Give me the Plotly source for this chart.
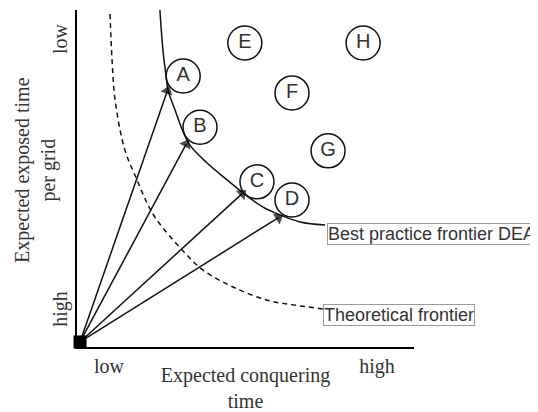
import plotly.graph_objects as go

# Decision-making units (circles)
unit_labels = ["A", "B", "C", "D", "E", "F", "G", "H"]
unit_x = [0.315, 0.365, 0.534, 0.638, 0.498, 0.638, 0.745, 0.849]
unit_y = [0.804, 0.652, 0.490, 0.436, 0.902, 0.754, 0.582, 0.902]

# Best practice frontier (DEA)
dea_x = [0.246, 0.255, 0.264, 0.270, 0.291, 0.315, 0.335, 0.386, 0.445, 0.493, 0.552, 0.602, 0.662, 0.736]
dea_y = [1.000, 0.881, 0.807, 0.763, 0.703, 0.638, 0.599, 0.546, 0.496, 0.457, 0.415, 0.392, 0.371, 0.362]

# Theoretical frontier
theo_x = [0.098, 0.104, 0.113, 0.142, 0.178, 0.208, 0.237, 0.312, 0.374, 0.463, 0.564, 0.641, 0.730]
theo_y = [0.988, 0.852, 0.733, 0.585, 0.496, 0.427, 0.377, 0.288, 0.228, 0.178, 0.139, 0.125, 0.113]

# Projection arrows from the origin
origin = (0.009, 0.015)
arrow_tip_x = [0.268, 0.324, 0.490, 0.598]
arrow_tip_y = [0.760, 0.602, 0.455, 0.384]

# Tick labels
x_tickvals = [0.095, 0.89]
x_ticktext = ["low", "high"]
y_tickvals = [0.905, 0.104]
y_ticktext = ["low", "high"]

LINE = "#111111"
SERIF = "Liberation Serif, Times New Roman, serif"
SANS = "Liberation Sans, Arial, sans-serif"

fig = go.Figure()

fig.add_trace(go.Scatter(
    x=theo_x, y=theo_y, mode="lines", line=dict(color=LINE, width=1.5, dash="5px,4px", shape="spline"),
    hoverinfo="skip", showlegend=False))

fig.add_trace(go.Scatter(
    x=dea_x, y=dea_y, mode="lines", line=dict(color=LINE, width=1.5, shape="spline"),
    hoverinfo="skip", showlegend=False))

for tx, ty in zip(arrow_tip_x, arrow_tip_y):
    fig.add_trace(go.Scatter(
        x=[origin[0], tx], y=[origin[1], ty], mode="lines+markers",
        line=dict(color=LINE, width=1.5),
        marker=dict(symbol=["circle", "triangle-up"], size=[0, 11], angleref="previous", color="#000000",
                    line=dict(width=0)),
        hoverinfo="skip", showlegend=False, cliponaxis=False))

fig.add_trace(go.Scatter(
    x=[origin[0]], y=[origin[1]], mode="markers",
    marker=dict(symbol="square", size=13, color="#000000"),
    hoverinfo="skip", showlegend=False, cliponaxis=False))

fig.add_trace(go.Scatter(
    x=unit_x, y=unit_y, mode="markers+text", text=unit_labels, textposition="middle center",
    textfont=dict(family=SANS, size=20, color="#333333"),
    marker=dict(symbol="circle-open", size=34, color=LINE, line=dict(color=LINE, width=1.5)),
    hoverinfo="skip", showlegend=False, cliponaxis=False))

fig.add_annotation(x=0.742, y=0.335, xref="x", yref="y", text="Best practice frontier DEA",
                   showarrow=False, xanchor="left", yanchor="middle",
                   font=dict(family=SANS, size=18, color="#333333"),
                   bordercolor="#9a9a9a", borderwidth=1, borderpad=0, bgcolor="white")
fig.add_annotation(x=0.730, y=0.095, xref="x", yref="y", text="Theoretical frontier",
                   showarrow=False, xanchor="left", yanchor="middle",
                   font=dict(family=SANS, size=18, color="#333333"),
                   bordercolor="#9a9a9a", borderwidth=1, borderpad=0, bgcolor="white")

# y-axis title (two rotated lines)
fig.add_annotation(x=-0.125, y=0.525, xref="paper", yref="paper", text="Expected exposed time<br>per grid",
                   showarrow=False, textangle=-90, xanchor="center", yanchor="middle",
                   font=dict(family=SERIF, size=20, color="#333333"))

fig.update_layout(
    width=530, height=404,
    margin=dict(l=69, r=124, t=2, b=65),
    paper_bgcolor="white", plot_bgcolor="white",
    xaxis=dict(range=[0, 1], showgrid=False, zeroline=False, showline=True, linecolor="#000000",
               linewidth=2, ticks="", tickvals=x_tickvals, ticktext=x_ticktext,
               tickfont=dict(family=SERIF, size=20, color="#333333"),
               title=dict(text="Expected conquering<br>time", font=dict(family=SERIF, size=20, color="#333333"),
                          standoff=2),
               automargin=False, fixedrange=True),
    yaxis=dict(range=[0, 1], showgrid=False, zeroline=False, showline=True, linecolor="#000000",
               linewidth=2, ticks="", tickvals=y_tickvals, ticktext=y_ticktext, tickangle=-90,
               tickfont=dict(family=SERIF, size=20, color="#333333"),
               automargin=False, fixedrange=True),
)

fig.write_html("out.html")
